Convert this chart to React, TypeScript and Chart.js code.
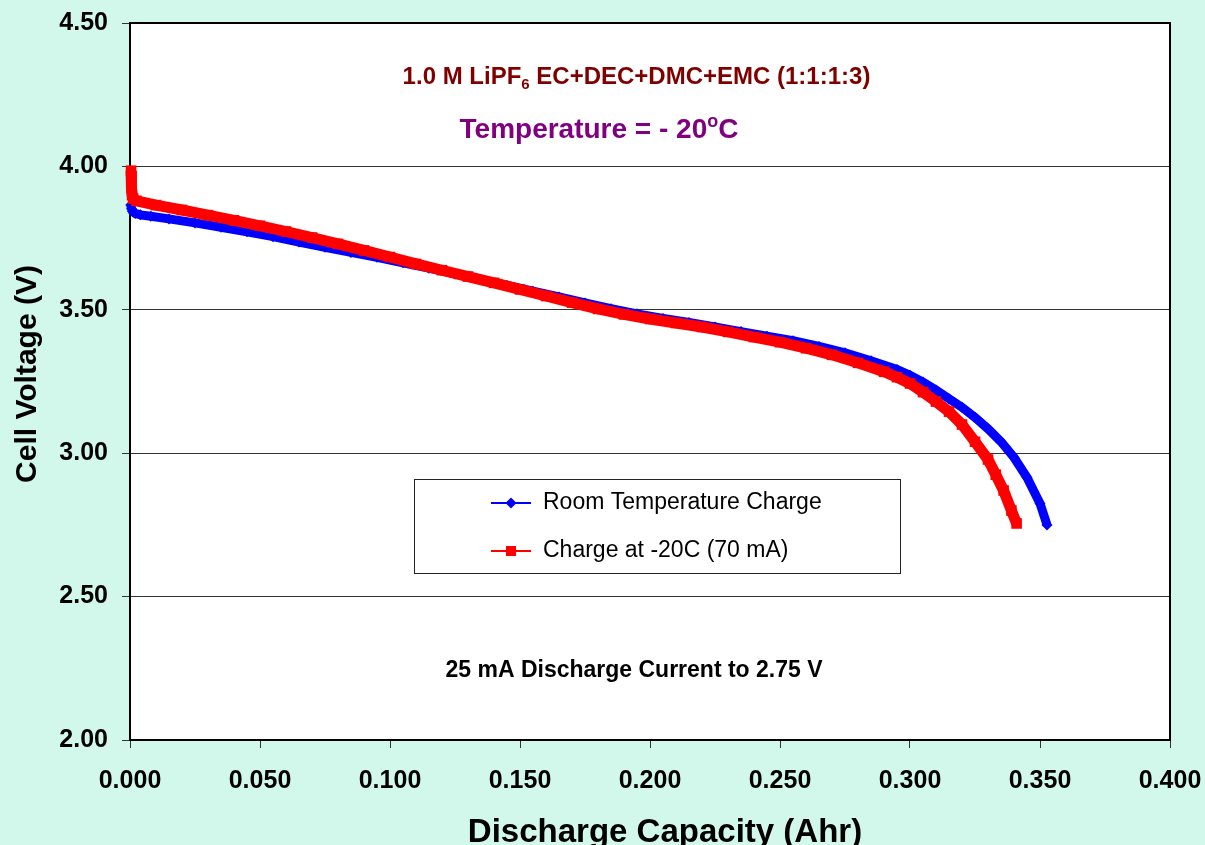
import React, { useEffect, useRef } from "react";
import { Chart, registerables } from "chart.js";

Chart.register(...registerables);

// ---- Data ----
const roomCapacity = [
  0.0003, 0.0006, 0.001, 0.002, 0.004, 0.008, 0.015, 0.025, 0.035, 0.045, 0.055,
  0.065, 0.075, 0.085, 0.095, 0.105, 0.115, 0.125, 0.135, 0.145, 0.155, 0.165,
  0.175, 0.185, 0.195, 0.205, 0.215, 0.225, 0.235, 0.245, 0.255, 0.265, 0.275,
  0.285, 0.295, 0.3, 0.305, 0.31, 0.315, 0.32, 0.325, 0.33, 0.335, 0.34, 0.345,
  0.35, 0.3527,
];
const roomVoltage = [
  3.865, 3.852, 3.843, 3.836, 3.831, 3.826, 3.817, 3.803, 3.788, 3.772, 3.755,
  3.736, 3.718, 3.7, 3.683, 3.664, 3.645, 3.625, 3.605, 3.585, 3.565, 3.545,
  3.524, 3.504, 3.486, 3.47, 3.456, 3.44, 3.424, 3.408, 3.392, 3.372, 3.35,
  3.322, 3.292, 3.272, 3.248, 3.22, 3.19, 3.16, 3.125, 3.085, 3.04, 2.985, 2.915,
  2.825, 2.75,
];
const coldCapacity = [
  0.0004, 0.0005, 0.0006, 0.0008, 0.0012, 0.0025, 0.01, 0.02, 0.03, 0.04, 0.05,
  0.06, 0.07, 0.08, 0.09, 0.1, 0.11, 0.12, 0.13, 0.14, 0.15, 0.16, 0.17, 0.18,
  0.19, 0.2, 0.21, 0.22, 0.23, 0.24, 0.25, 0.26, 0.27, 0.28, 0.29, 0.295, 0.3,
  0.305, 0.31, 0.315, 0.32, 0.325, 0.33, 0.333, 0.336, 0.339, 0.341,
];
const coldVoltage = [
  3.985, 3.955, 3.925, 3.9, 3.888, 3.88, 3.865, 3.848, 3.83, 3.812, 3.793,
  3.773, 3.752, 3.73, 3.707, 3.684, 3.66, 3.638, 3.616, 3.594, 3.571, 3.548,
  3.525, 3.503, 3.484, 3.468, 3.454, 3.44, 3.423, 3.405, 3.387, 3.366, 3.343,
  3.315, 3.284, 3.265, 3.243, 3.213, 3.18, 3.145, 3.1, 3.04, 2.978, 2.925,
  2.87, 2.8, 2.755,
];
const seriesNames = ["Room Temperature Charge", "Charge at -20C (70 mA)"];
const xTickValues = [0, 0.05, 0.1, 0.15, 0.2, 0.25, 0.3, 0.35, 0.4];
const yTickValues = [2.0, 2.5, 3.0, 3.5, 4.0, 4.5];
const xAxisTitle = "Discharge Capacity (Ahr)";
const yAxisTitle = "Cell Voltage (V)";
const titleParts = ["1.0 M LiPF", "6", " EC+DEC+DMC+EMC (1:1:1:3)"];
const tempParts = ["Temperature = - 20", "o", "C"];
const noteText = "25 mA Discharge Current to 2.75 V";

const FONT = '"Liberation Sans", Arial, sans-serif';
const BG = "#d2f8ec";
const BLUE = "#0000ff";
const RED = "#ff0000";

const decorPlugin = {
  id: "decor",
  beforeDraw(chart: any) {
    const { ctx, width, height, chartArea: a } = chart;
    ctx.save();
    ctx.fillStyle = BG;
    ctx.fillRect(0, 0, width, height);
    ctx.fillStyle = "#ffffff";
    ctx.fillRect(a.left, a.top, a.right - a.left, a.bottom - a.top);
    ctx.restore();
  },
  beforeDatasetsDraw(chart: any) {
    const { ctx, chartArea: a } = chart;
    ctx.save();
    ctx.strokeStyle = "#000";
    ctx.lineWidth = 2;
    ctx.strokeRect(a.left, a.top, a.right - a.left, a.bottom - a.top);
    ctx.restore();
  },
  afterDraw(chart: any) {
    const { ctx } = chart;
    ctx.save();
    ctx.textBaseline = "alphabetic";

    // Title line 1 with subscript
    const f1 = `bold 24px ${FONT}`;
    const f1s = `bold 15px ${FONT}`;
    ctx.font = f1;
    const w0 = ctx.measureText(titleParts[0]).width;
    const w2 = ctx.measureText(titleParts[2]).width;
    ctx.font = f1s;
    const w1 = ctx.measureText(titleParts[1]).width;
    let x = 636.5 - (w0 + w1 + w2) / 2;
    const y1 = 84;
    ctx.fillStyle = "#800000";
    ctx.textAlign = "left";
    ctx.font = f1;
    ctx.fillText(titleParts[0], x, y1);
    x += w0;
    ctx.font = f1s;
    ctx.fillText(titleParts[1], x, y1 + 5);
    x += w1;
    ctx.font = f1;
    ctx.fillText(titleParts[2], x, y1);

    // Temperature line with superscript
    const f2 = `bold 28px ${FONT}`;
    const f2s = `bold 18px ${FONT}`;
    ctx.font = f2;
    const t0 = ctx.measureText(tempParts[0]).width;
    const t2 = ctx.measureText(tempParts[2]).width;
    ctx.font = f2s;
    const t1 = ctx.measureText(tempParts[1]).width;
    x = 599 - (t0 + t1 + t2) / 2;
    const y2 = 138;
    ctx.fillStyle = "#800080";
    ctx.font = f2;
    ctx.fillText(tempParts[0], x, y2);
    x += t0;
    ctx.font = f2s;
    ctx.fillText(tempParts[1], x, y2 - 11);
    x += t1;
    ctx.font = f2;
    ctx.fillText(tempParts[2], x, y2);

    // Note
    ctx.fillStyle = "#000";
    ctx.font = `bold 23px ${FONT}`;
    ctx.textAlign = "center";
    ctx.fillText(noteText, 634, 677);

    // Axis titles
    ctx.font = `bold 33px ${FONT}`;
    ctx.fillText(xAxisTitle, 665, 842);
    ctx.save();
    ctx.translate(28, 374);
    ctx.rotate(-Math.PI / 2);
    ctx.font = `bold 30px ${FONT}`;
    ctx.textBaseline = "middle";
    ctx.fillText(yAxisTitle, 0, 0);
    ctx.restore();

    // Legend box
    const lx = 414, ly = 479, lw = 486, lh = 94;
    ctx.fillStyle = "#fff";
    ctx.fillRect(lx, ly, lw, lh);
    ctx.strokeStyle = "#222";
    ctx.lineWidth = 1;
    ctx.strokeRect(lx + 0.5, ly + 0.5, lw, lh);
    const rows = [
      { y: 503, color: BLUE, style: "diamond", label: seriesNames[0] },
      { y: 551, color: RED, style: "square", label: seriesNames[1] },
    ];
    rows.forEach((r) => {
      ctx.strokeStyle = r.color;
      ctx.lineWidth = 2;
      ctx.beginPath();
      ctx.moveTo(491, r.y);
      ctx.lineTo(531, r.y);
      ctx.stroke();
      ctx.fillStyle = r.color;
      if (r.style === "diamond") {
        ctx.beginPath();
        ctx.moveTo(511 - 5.5, r.y);
        ctx.lineTo(511, r.y - 5.5);
        ctx.lineTo(511 + 5.5, r.y);
        ctx.lineTo(511, r.y + 5.5);
        ctx.closePath();
        ctx.fill();
      } else {
        ctx.fillRect(506, r.y - 5, 10, 10);
      }
      ctx.fillStyle = "#000";
      ctx.font = `23px ${FONT}`;
      ctx.textAlign = "left";
      ctx.textBaseline = "middle";
      ctx.fillText(r.label, 543, r.y);
    });
    ctx.restore();
  },
};

const zeroPad = (s: any) => {
  s.paddingTop = 0;
  s.paddingBottom = 0;
  s.paddingLeft = 0;
  s.paddingRight = 0;
};

export default function App() {
  const canvasRef = useRef<HTMLCanvasElement | null>(null);

  useEffect(() => {
    document.body.style.margin = "0";
    const canvas = canvasRef.current;
    if (!canvas) return;
    const chart = new Chart(canvas, {
      type: "line",
      data: {
        datasets: [
          {
            label: seriesNames[0],
            data: roomCapacity.map((c, i) => ({ x: c, y: roomVoltage[i] })),
            borderColor: BLUE,
            backgroundColor: BLUE,
            borderWidth: 9,
            pointStyle: "rectRot",
            pointRadius: 5.5,
            pointBorderWidth: 0,
            pointBackgroundColor: BLUE,
            tension: 0,
            fill: false,
            clip: false,
            order: 2,
          } as any,
          {
            label: seriesNames[1],
            data: coldCapacity.map((c, i) => ({ x: c, y: coldVoltage[i] })),
            borderColor: RED,
            backgroundColor: RED,
            borderWidth: 11,
            pointStyle: "rect",
            pointRadius: 7.5,
            pointBorderWidth: 0,
            pointBackgroundColor: RED,
            tension: 0,
            fill: false,
            clip: false,
            order: 1,
          } as any,
        ],
      },
      options: {
        animation: false,
        responsive: false,
        maintainAspectRatio: false,
        events: [],
        layout: { padding: { left: 0, top: 23, right: 35, bottom: 0 } },
        plugins: {
          legend: { display: false },
          tooltip: { enabled: false },
          title: { display: false },
        },
        scales: {
          x: {
            type: "linear",
            min: 0,
            max: 0.4,
            afterFit: (s: any) => {
              s.height = 105;
              zeroPad(s);
            },
            afterBuildTicks: (s: any) => {
              s.ticks = xTickValues.map((v) => ({ value: v }));
            },
            grid: {
              drawOnChartArea: false,
              drawTicks: true,
              tickLength: 8,
              color: "#333",
              tickColor: "#333",
            },
            border: { display: false },
            ticks: {
              autoSkip: false,
              maxRotation: 0,
              padding: 18,
              color: "#000",
              font: { family: FONT, size: 25, weight: "bold" },
              callback: (v: any) => Number(v).toFixed(3),
            },
          },
          y: {
            type: "linear",
            min: 2,
            max: 4.5,
            afterFit: (s: any) => {
              s.width = 130;
              zeroPad(s);
            },
            afterBuildTicks: (s: any) => {
              s.ticks = yTickValues.map((v) => ({ value: v }));
            },
            grid: {
              drawOnChartArea: true,
              drawTicks: true,
              tickLength: 8,
              color: "#333",
              tickColor: "#333",
            },
            border: { display: false },
            ticks: {
              autoSkip: false,
              padding: 14,
              color: "#000",
              font: { family: FONT, size: 25, weight: "bold" },
              callback: (v: any) => Number(v).toFixed(2),
            },
          },
        },
      },
      plugins: [decorPlugin],
    } as any);
    return () => chart.destroy();
  }, []);

  return (
    <div style={{ width: 1205, height: 845, background: BG }}>
      <canvas ref={canvasRef} width={1205} height={845} style={{ display: "block" }} />
    </div>
  );
}
